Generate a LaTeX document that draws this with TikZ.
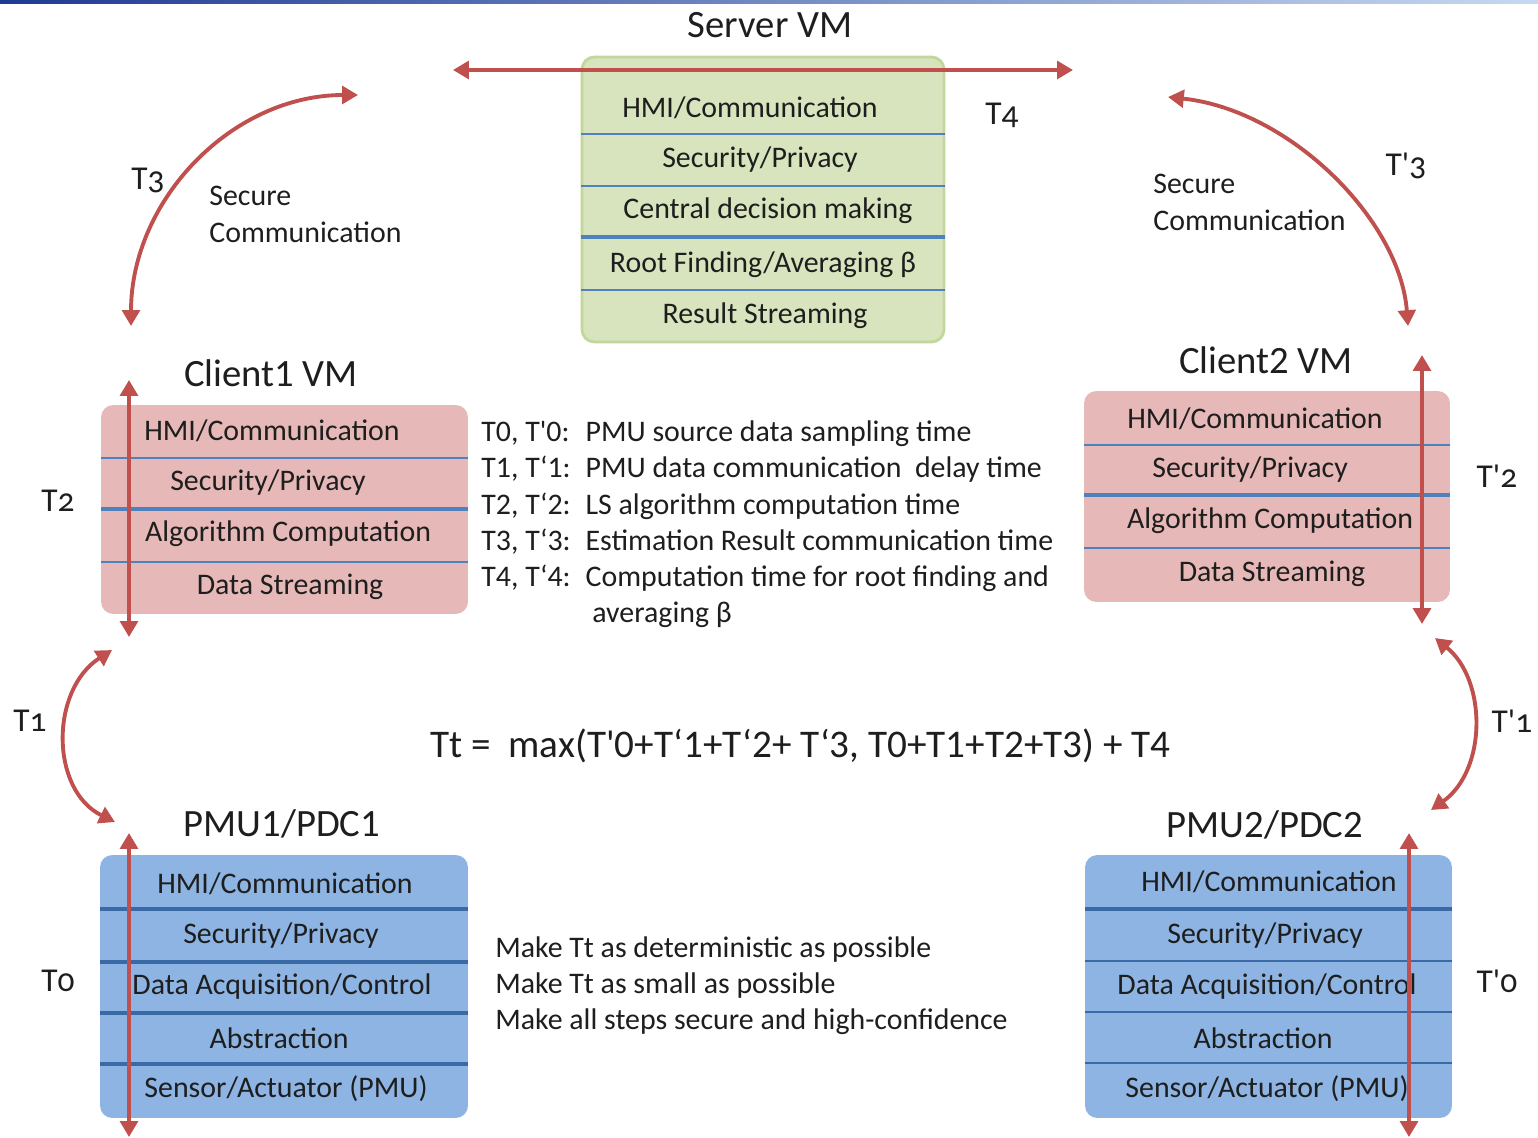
\documentclass[tikz,border=0pt]{standalone}
\usepackage{fontspec}
\setmainfont{Carlito}
\newfontfamily\oldnum{Carlito}[Numbers=OldStyle]
\usetikzlibrary{arrows.meta}

\definecolor{arrowred}{HTML}{C0504D}
\definecolor{servfill}{HTML}{D7E4BD}
\definecolor{servedge}{HTML}{C3D69B}
\definecolor{clientfill}{HTML}{E6B9B8}
\definecolor{pmufill}{HTML}{8DB4E2}
\definecolor{rulecol}{HTML}{4F81BD}
\definecolor{ruledark}{HTML}{3A6AA6}
\definecolor{inkcol}{HTML}{1E1E1E}
\definecolor{bardark}{HTML}{1F3A93}
\definecolor{barlight}{HTML}{C6D9F1}

\tikzset{
  timearrow/.style={draw=arrowred, line width=2.2pt,
    {Triangle[length=9pt,width=10pt]}-{Triangle[length=9pt,width=10pt]}},
  stackbox/.style={rounded corners=7pt, inner sep=0pt},
  layertext/.style={font=\fontsize{17}{20}\selectfont, text=inkcol, inner sep=0pt},
  heading/.style={font=\fontsize{22}{26}\selectfont, text=inkcol, inner sep=0pt},
  timelabel/.style={font=\fontsize{19}{22}\selectfont\oldnum, text=inkcol, inner sep=0pt},
  notetext/.style={font=\fontsize{17}{20.6}\selectfont, text=inkcol, inner sep=0pt, align=left},
}

\begin{document}
\begin{tikzpicture}[x=0.02cm, y=-0.02cm]
% canvas
\path[use as bounding box, fill=white] (0,0) rectangle (1538,1137);
\shade[left color=bardark, right color=barlight] (0,0) rectangle (1538,3);

% ---------- Server VM ----------
\node[heading] (servertitle) at (770,25) {Server VM};
\node[stackbox, fill=servfill, draw=servedge, line width=1.6pt,
      minimum width=7.24cm, minimum height=5.70cm] (server) at (763,199.5) {};
\foreach \yy/\ww in {134/1.1pt, 186/1.1pt, 237/2pt, 290/1.1pt}
  \draw[draw=rulecol, line width=\ww] (server.west |- 0,\yy) -- (server.east |- 0,\yy);
\node[layertext] (s1) at (750,108) {HMI/Communication};
\node[layertext] (s2) at (760,160) {Security/Privacy};
\node[layertext] (s3) at (768,211) {Central decision making};
\node[layertext] (s4) at (763,265) {Root Finding/Averaging β};
\node[layertext] (s5) at (765,316) {Result Streaming};

% ---------- Client1 VM ----------
\node[heading] (c1title) at (271,373) {Client1 VM};
\node[stackbox, fill=clientfill,
      minimum width=7.34cm, minimum height=4.18cm] (client1) at (284.5,509.5) {};
\foreach \yy/\ww in {458/1.1pt, 509/2pt, 562/1.1pt}
  \draw[draw=rulecol, line width=\ww] (client1.west |- 0,\yy) -- (client1.east |- 0,\yy);
\node[layertext] (a1) at (272,431) {HMI/Communication};
\node[layertext] (a2) at (268,483) {Security/Privacy};
\node[layertext] (a3) at (288,534) {Algorithm Computation};
\node[layertext] (a4) at (290,587) {Data Streaming};

% ---------- Client2 VM ----------
\node[heading] (c2title) at (1266,360) {Client2 VM};
\node[stackbox, fill=clientfill,
      minimum width=7.32cm, minimum height=4.22cm] (client2) at (1267,496.5) {};
\foreach \yy/\ww in {445/1.1pt, 495/2pt, 548/1.1pt}
  \draw[draw=rulecol, line width=\ww] (client2.west |- 0,\yy) -- (client2.east |- 0,\yy);
\node[layertext] (b1) at (1255,419) {HMI/Communication};
\node[layertext] (b2) at (1250,470) {Security/Privacy};
\node[layertext] (b3) at (1270,521) {Algorithm Computation};
\node[layertext] (b4) at (1272,574) {Data Streaming};

% ---------- PMU1/PDC1 ----------
\node[heading] (p1title) at (282,824) {PMU1/PDC1};
\node[stackbox, fill=pmufill,
      minimum width=7.36cm, minimum height=5.26cm] (pmu1) at (284,986.5) {};
\foreach \yy in {909, 962, 1013, 1064}
  \draw[draw=ruledark, line width=2pt] (pmu1.west |- 0,\yy) -- (pmu1.east |- 0,\yy);
\node[layertext] (p1) at (285,884) {HMI/Communication};
\node[layertext] (p2) at (281,936) {Security/Privacy};
\node[layertext] (p3) at (282,987) {Data Acquisition/Control};
\node[layertext] (p4) at (279,1038) {Abstraction};
\node[layertext] (p5) at (286,1089) {Sensor/Actuator (PMU)};

% ---------- PMU2/PDC2 ----------
\node[heading] (p2title) at (1265,825) {PMU2/PDC2};
\node[stackbox, fill=pmufill,
      minimum width=7.34cm, minimum height=5.26cm] (pmu2) at (1268.5,986.5) {};
\foreach \yy/\ww in {909/2pt, 961/1.1pt, 1012/1.1pt, 1063/1.1pt}
  \draw[draw=ruledark, line width=\ww] (pmu2.west |- 0,\yy) -- (pmu2.east |- 0,\yy);
\node[layertext] (q1) at (1269,882) {HMI/Communication};
\node[layertext] (q2) at (1265,936) {Security/Privacy};
\node[layertext] (q3) at (1267,987) {Data Acquisition/Control};
\node[layertext] (q4) at (1263,1038) {Abstraction};
\node[layertext] (q5) at (1267,1089) {Sensor/Actuator (PMU)};

% ---------- legend and notes ----------
\node[notetext, anchor=north west] (legend) at (481,416) {%
  \begin{tabular}{@{}l@{\hspace{0.5em}}l@{}}
  T0, T\textquotesingle0: & PMU source data sampling time\\
  T1, T‘1: & PMU data communication\ \ delay time\\
  T2, T‘2: & LS algorithm computation time\\
  T3, T‘3: & Estimation Result communication time\\
  T4, T‘4: & Computation time for root finding and\\
           & \ averaging β
  \end{tabular}};

\node[font=\fontsize{22.3}{26}\selectfont, text=inkcol, inner sep=0pt, anchor=west] (formula)
  at (430,746) {Tt =\ \ max(T\textquotesingle0+T‘1+T‘2+ T‘3, T0+T1+T2+T3) + T4};

\node[notetext, anchor=north west] (goals) at (495,936) {%
  Make Tt as deterministic as possible\\
  Make Tt as small as possible\\
  Make all steps secure and high-confidence};

\node[notetext, anchor=north west, font=\fontsize{17}{21}\selectfont] (sc1) at (209,186) {Secure\\Communication};
\node[notetext, anchor=north west, font=\fontsize{17}{21}\selectfont] (sc2) at (1153,174) {Secure\\Communication};

% ---------- time labels ----------
\node[timelabel] (lT4) at (1002,115) {T4};
\node[timelabel] (lT3) at (148,180) {T3};
\node[timelabel] (lT3p) at (1406,166) {T\textquotesingle3};
\node[timelabel] (lT2) at (58,501) {T2};
\node[timelabel] (lT2p) at (1497,476) {T\textquotesingle2};
\node[timelabel] (lT1) at (30,721) {T1};
\node[timelabel] (lT1p) at (1512,721) {T\textquotesingle1};
\node[timelabel] (lT0) at (58,981) {T0};
\node[timelabel] (lT0p) at (1497,981) {T\textquotesingle0};

% ---------- timing arrows ----------
\coordinate (t4l) at (453,70);   \coordinate (t4r) at (1073,70);
\coordinate (t3a) at (131,326);  \coordinate (t3b) at (358,95);
\coordinate (t3pa) at (1168,97); \coordinate (t3pb) at (1408,326);
\coordinate (t2a) at (129,380);  \coordinate (t2b) at (129,637);
\coordinate (t2pa) at (1422,355);\coordinate (t2pb) at (1422,624);
\coordinate (t1a) at (112,650);  \coordinate (t1b) at (115,822);
\coordinate (t1pa) at (1435,638);\coordinate (t1pb) at (1431,810);
\coordinate (t0a) at (129,833);  \coordinate (t0b) at (129,1137);
\coordinate (t0pa) at (1409,833);\coordinate (t0pb) at (1409,1137);

\draw[timearrow] (t4l) -- (t4r);
\draw[timearrow] (t3a) .. controls (131,200) and (232,95) .. (t3b);
\draw[timearrow] (t3pa) .. controls (1290,110) and (1400,220) .. (t3pb);
\draw[timearrow] (t2a) -- (t2b);
\draw[timearrow] (t2pa) -- (t2pb);
\draw[timearrow] (t1a) .. controls (50,690) and (50,790) .. (t1b);
\draw[timearrow] (t1pa) .. controls (1487,680) and (1487,770) .. (t1pb);
\draw[timearrow] (t0a) -- (t0b);
\draw[timearrow] (t0pa) -- (t0pb);
\end{tikzpicture}
\end{document}
